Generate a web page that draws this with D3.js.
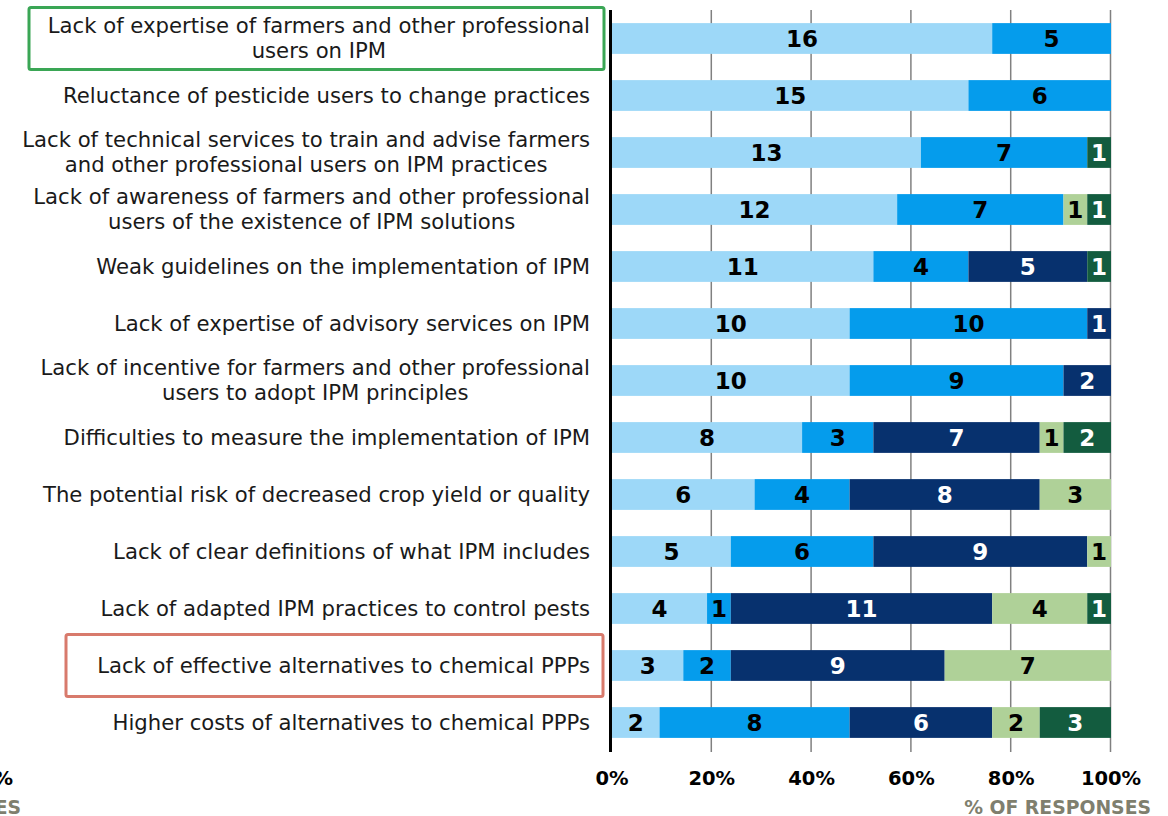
<!DOCTYPE html>
<html>
<head>
<meta charset="utf-8">
<script src="https://cdn.jsdelivr.net/npm/d3@7"></script>
<style>
  body { margin: 0; background: #fff; }
  svg { display: block; font-family: 'DejaVu Sans', Verdana, sans-serif; }
</style>
</head>
<body>
<div id="chart"></div>
<script>
// Data
const categories = [
  ['Lack of expertise of farmers and other professional', 'users on IPM'],
  ['Reluctance of pesticide users to change practices'],
  ['Lack of technical services to train and advise farmers', 'and other professional users on IPM practices'],
  ['Lack of awareness of farmers and other professional', 'users of the existence of IPM solutions'],
  ['Weak guidelines on the implementation of IPM'],
  ['Lack of expertise of advisory services on IPM'],
  ['Lack of incentive for farmers and other professional', 'users to adopt IPM principles'],
  ['Difficulties to measure the implementation of IPM'],
  ['The potential risk of decreased crop yield or quality'],
  ['Lack of clear definitions of what IPM includes'],
  ['Lack of adapted IPM practices to control pests'],
  ['Lack of effective alternatives to chemical PPPs'],
  ['Higher costs of alternatives to chemical PPPs']
];
const series1 = [16, 15, 13, 12, 11, 10, 10, 8, 6, 5, 4, 3, 2];
const series2 = [5, 6, 7, 7, 4, 10, 9, 3, 4, 6, 1, 2, 8];
const series3 = [0, 0, 0, 0, 5, 1, 2, 7, 8, 9, 11, 9, 6];
const series4 = [0, 0, 0, 1, 0, 0, 0, 1, 3, 1, 4, 7, 2];
const series5 = [0, 0, 1, 1, 1, 0, 0, 2, 0, 0, 1, 0, 3];
const tickLabels = ['0%', '20%', '40%', '60%', '80%', '100%'];
const highlighted = [0, 11];

// Constants
const WIDTH = 1168;
const HEIGHT = 816;
const colors = ['#9dd8f8', '#059cec', '#07316e', '#afd198', '#135c3f'];
const textColors = ['#000', '#000', '#fff', '#000', '#fff'];
const boxColors = ['#3aa655', '#d87a6c'];

const allSeries = [series1, series2, series3, series4, series5];
const rows = categories.map((c, i) => {
  const vals = allSeries.map((s) => s[i]);
  const total = d3.sum(vals);
  let acc = 0;
  const segs = vals.map((v, k) => {
    const seg = { k, v, x0: acc / total, x1: (acc + v) / total };
    acc += v;
    return seg;
  });
  return { i, label: c, segs };
});

const svg = d3
  .select('#chart')
  .append('svg')
  .attr('width', WIDTH)
  .attr('height', HEIGHT)
  .attr('viewBox', `0 0 ${WIDTH} ${HEIGHT}`);

const x = d3.scaleLinear().domain([0, 1]).range([612, 1111]);
const y = d3
  .scaleBand()
  .domain(d3.range(categories.length))
  .range([10, 751])
  .paddingInner(0.46)
  .paddingOuter(0.23);

// Gridlines
svg
  .append('g')
  .selectAll('line')
  .data(d3.range(0.2, 1.01, 0.2))
  .join('line')
  .attr('x1', (d) => x(d) - 0.5)
  .attr('x2', (d) => x(d) - 0.5)
  .attr('y1', 10)
  .attr('y2', 752)
  .attr('stroke', '#808080')
  .attr('stroke-width', 1.5);

// Bars
const rowG = svg
  .append('g')
  .selectAll('g')
  .data(rows)
  .join('g')
  .attr('transform', (d) => `translate(0,${y(d.i)})`);

rowG
  .selectAll('rect')
  .data((d) => d.segs.filter((s) => s.v > 0))
  .join('rect')
  .attr('x', (d) => x(d.x0))
  .attr('width', (d) => x(d.x1) - x(d.x0))
  .attr('height', y.bandwidth())
  .attr('fill', (d) => colors[d.k]);

rowG
  .selectAll('text')
  .data((d) => d.segs.filter((s) => s.v > 0))
  .join('text')
  .attr('x', (d) => (x(d.x0) + x(d.x1)) / 2)
  .attr('y', y.bandwidth() / 2)
  .attr('dy', '0.36em')
  .attr('text-anchor', 'middle')
  .attr('font-size', 23)
  .attr('font-weight', 'bold')
  .attr('fill', (d) => textColors[d.k])
  .text((d) => d.v);

// Vertical axis line
svg
  .append('line')
  .attr('x1', 610.5)
  .attr('x2', 610.5)
  .attr('y1', 10)
  .attr('y2', 752)
  .attr('stroke', '#000')
  .attr('stroke-width', 3);

// Category labels (multi-line blocks centred, block right-aligned)
const labelRight = 590;
const lineH = 25;
const labelG = svg.append('g').attr('font-size', 21.2).attr('fill', '#1a1a1a');
rows.forEach((r) => {
  const cy = y(r.i) + y.bandwidth() / 2;
  const t = labelG
    .append('text')
    .attr('text-anchor', 'middle')
    .attr('y', cy - ((r.label.length - 1) * lineH) / 2);
  r.label.forEach((line, j) => {
    t.append('tspan')
      .attr('dy', j === 0 ? '0.35em' : lineH)
      .attr('x', 0)
      .text(line);
  });
  const w = d3.max(t.selectAll('tspan').nodes(), (n) => n.getComputedTextLength());
  t.selectAll('tspan').attr('x', labelRight - w / 2);
});

// Highlight boxes
const boxes = [
  { i: highlighted[0], x0: 29, x1: 604 },
  { i: highlighted[1], x0: 66, x1: 603 }
];
svg
  .append('g')
  .selectAll('rect')
  .data(boxes)
  .join('rect')
  .attr('x', (d) => d.x0)
  .attr('y', (d) => y(d.i) + y.bandwidth() / 2 - 31)
  .attr('width', (d) => d.x1 - d.x0)
  .attr('height', 62)
  .attr('rx', 2)
  .attr('fill', 'none')
  .attr('stroke', (d, k) => boxColors[k])
  .attr('stroke-width', 3);

// X tick labels
svg
  .append('g')
  .selectAll('text')
  .data(tickLabels)
  .join('text')
  .attr('x', (d, i) => x(i / 5))
  .attr('y', 785)
  .attr('text-anchor', 'middle')
  .attr('font-size', 19.5)
  .attr('font-weight', 'bold')
  .attr('fill', '#000')
  .text((d) => d);

svg
  .append('text')
  .attr('x', 1151)
  .attr('y', 814)
  .attr('text-anchor', 'end')
  .attr('font-size', 18.8)
  .attr('font-weight', 'bold')
  .attr('fill', '#7f7f6e')
  .text('% OF RESPONSES');

// Fragments of the neighbouring chart, cut by the left edge
svg
  .append('text')
  .attr('x', 13)
  .attr('y', 785)
  .attr('text-anchor', 'end')
  .attr('font-size', 19.5)
  .attr('font-weight', 'bold')
  .attr('fill', '#000')
  .text('100%');

svg
  .append('text')
  .attr('x', 21)
  .attr('y', 814)
  .attr('text-anchor', 'end')
  .attr('font-size', 18.8)
  .attr('font-weight', 'bold')
  .attr('fill', '#7f7f6e')
  .text('% OF RESPONSES');
</script>
</body>
</html>
